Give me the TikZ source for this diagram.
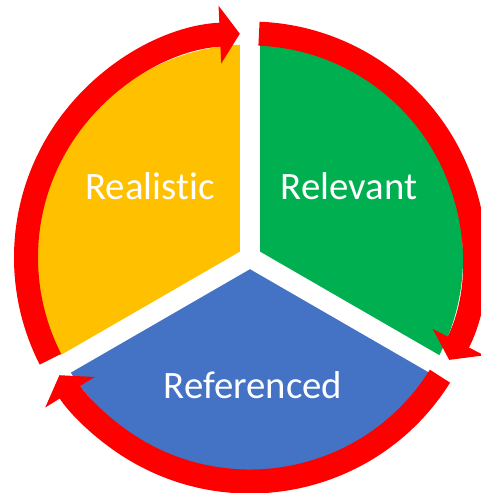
\documentclass[tikz,border=0pt]{standalone}
\usepackage{fontspec}
\setmainfont{Carlito}[Ligatures=NoCommon]
\usetikzlibrary{arrows.meta}
\definecolor{realyellow}{HTML}{FFC000}
\definecolor{relgreen}{HTML}{00B050}
\definecolor{refblue}{HTML}{4472C4}
\definecolor{ringred}{HTML}{FF0000}
\tikzset{
  ring/.style={ringred, line width=12pt, -{Triangle[length=10pt, width=28.5pt]}},
  label/.style={anchor=base, text=white, font=\fontsize{19.4}{23}\selectfont}
}
\begin{document}
\begin{tikzpicture}[x=0.5pt,y=0.5pt]
            \useasboundingbox (-250,-235.5) rectangle (231,257.5);
            \fill[realyellow] (0,0) -- (90:213) arc[start angle=90, end angle=210, radius=213] -- cycle;
            \fill[relgreen] (0,0) -- (-30:213) arc[start angle=-30, end angle=90, radius=213] -- cycle;
            \fill[refblue] (0,0) -- (210:213) arc[start angle=210, end angle=330, radius=213] -- cycle;
            \draw[white, line width=10pt] (0,0) -- (90:214);
            \draw[white, line width=10pt] (0,0) -- (-30:214);
            \draw[white, line width=10pt] (0,0) -- (210:214);
            \draw[ring] (207:224) arc[start angle=207, end angle=92.6, radius=224];
            \draw[ring] (87.7:224) arc[start angle=87.7, end angle=-27.2, radius=224];
            \draw[ring] (-32:224) arc[start angle=-32, end angle=-148.3, radius=224];
            \node[label] (realistic) at (-100,58) {Realistic};
            \node[label] (relevant) at (99,58) {Relevant};
            \node[label] (referenced) at (3,-141) {Referenced};
        \end{tikzpicture}
\end{document}
